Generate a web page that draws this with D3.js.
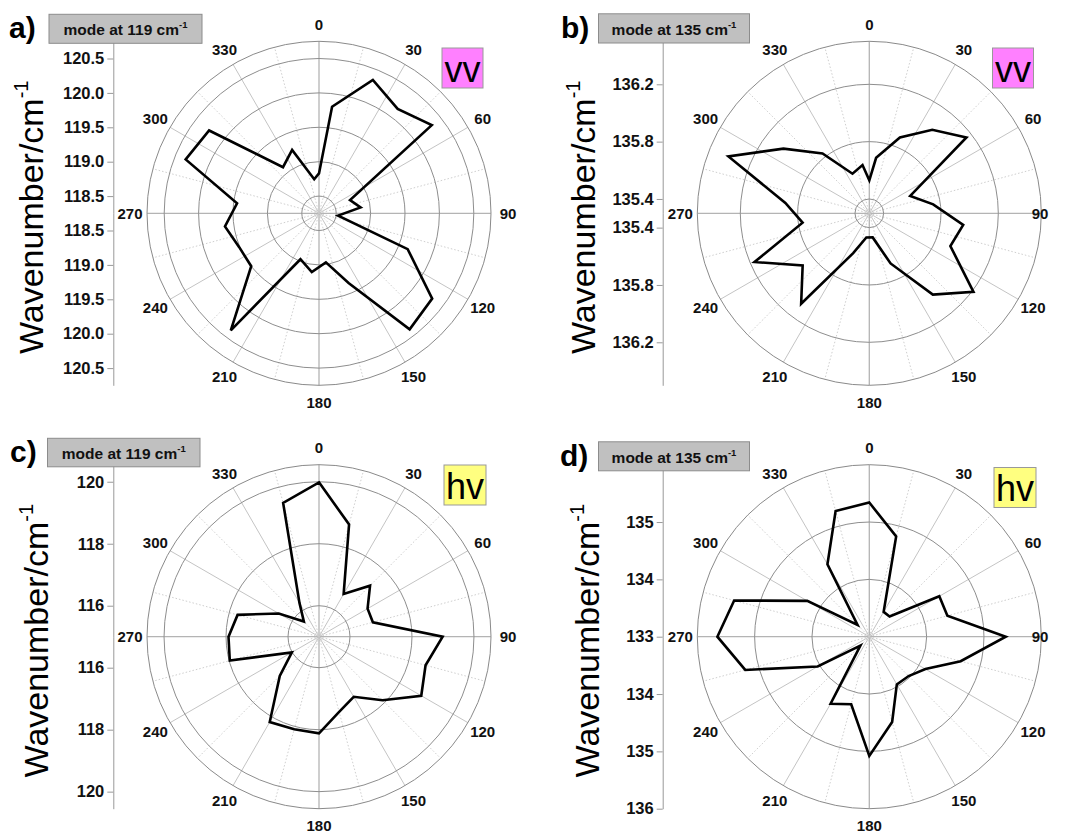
<!DOCTYPE html>
<html>
<head>
<meta charset="utf-8">
<script src="https://cdn.jsdelivr.net/npm/d3@7"></script>
<style>
  body { margin: 0; background: #fff; }
  svg { display: block; }
</style>
</head>
<body>
<svg id="chart" width="1065" height="833"></svg>
<script>
// ---- data: polarisation angle (deg) and mode wavenumber (cm^-1) ----
const anglesVV = [0, 7, 22, 37, 52, 67, 82, 97, 112, 127, 142, 157, 172, 187, 202, 217, 232, 247, 262, 277, 292, 307, 322, 337, 352];
const anglesHV = [0, 15, 30, 45, 60, 75, 90, 105, 120, 135, 150, 165, 180, 195, 210, 225, 240, 255, 270, 285, 300, 315, 330, 345];

const vv119 = [118.83, 119.81, 120.34, 120.15, 120.33, 118.74, 118.86, 118.53, 119.64, 120.31, 120.39, 119.35, 118.97,
               119.11, 118.97, 120.38, 119.50, 119.51, 119.63, 119.45, 120.34, 120.25, 119.10, 119.25, 118.75];
const vv135 = [135.53, 135.69, 135.87, 136.03, 136.16, 135.61, 135.75, 135.96, 135.91, 136.21, 136.02, 135.68, 135.47,
               135.47, 135.60, 136.09, 135.89, 136.17, 135.77, 135.89, 136.36, 136.05, 135.83, 135.60, 135.64];
const hv119 = [119.98, 118.75, 116.59, 117.33, 116.81, 116.80, 118.99, 118.56, 118.81, 117.90, 117.24, 117.51,
               118.12, 118.09, 118.18, 116.79, 116.01, 117.98, 117.92, 117.72, 116.50, 115.69, 116.26, 119.47];
const hv135 = [135.34, 134.81, 133.50, 133.50, 134.41, 134.41, 135.38, 134.65, 134.13, 133.97, 133.96, 134.54,
               135.08, 134.22, 134.35, 133.22, 134.04, 135.24, 135.65, 135.44, 134.25, 133.29, 134.46, 135.27];

// radial axis ranges, grid rings and tick values
const domainA = [118.25, 120.75], ringsA = [118.5, 119.0, 119.5, 120.0, 120.5];
const domainB = [135.3, 136.5],   ringsB = [135.4, 135.8, 136.2];
const domainC = [115, 120.55],    ringsC = [116, 118, 120];
const domainD = [133, 136],       ringsD = [134, 135];
const ticksA = [118.5, 119.0, 119.5, 120.0, 120.5];
const ticksB = [135.4, 135.8, 136.2];
const ticksC = [116, 118, 120];
const ticksDUp = [133, 134, 135], ticksDDown = [134, 135, 136];

const angleLabels = [0, 30, 60, 90, 120, 150, 180, 210, 240, 270, 300, 330];
const spokeAngles = [0, 15, 30, 45, 60, 75, 90, 105, 120, 135, 150, 165, 180, 195, 210, 225, 240, 255, 270, 285, 300, 315, 330, 345];

const panels = [
  { letter: "a)", mode: "119", pol: "vv", polFill: "#ff80ff", angles: anglesVV, values: vv119,
    domain: domainA, rings: ringsA, up: ticksA, down: ticksA, fmt: d3.format(".1f"),
    cx: 319, cy: 213.3, axisX: 113.3, titleX: 43, box: [49, 14.3, 153, 29], tag: [442, 48, 41, 40], letterX: 9 },
  { letter: "b)", mode: "135", pol: "vv", polFill: "#ff80ff", angles: anglesVV, values: vv135,
    domain: domainB, rings: ringsB, up: ticksB, down: ticksB, fmt: d3.format(".1f"),
    cx: 869.3, cy: 213.3, axisX: 662.7, titleX: 595, box: [598.5, 13.8, 151, 29.2], tag: [992.5, 48, 41, 40], letterX: 561 },
  { letter: "c)", mode: "119", pol: "hv", polFill: "#ffff80", angles: anglesHV, values: hv119,
    domain: domainC, rings: ringsC, up: ticksC, down: ticksC, fmt: d3.format("d"),
    cx: 319, cy: 636.7, axisX: 113.3, titleX: 48, box: [47.5, 438.3, 152.5, 28.5], tag: [444, 465, 42, 40], letterX: 10 },
  { letter: "d)", mode: "135", pol: "hv", polFill: "#ffff80", angles: anglesHV, values: hv135,
    domain: domainD, rings: ringsD, up: ticksDUp, down: ticksDDown, fmt: d3.format("d"),
    cx: 869.3, cy: 636.7, axisX: 662.7, titleX: 599, box: [598.5, 441.8, 151, 29], tag: [994, 467.5, 42, 40], letterX: 560 }
];

const R = 172;
const LABEL_R = 189;
const RIGHT_LIMIT = 1050;   // keep angle labels inside the page
const FONT = "'Liberation Sans', Arial, Helvetica, sans-serif";
const svg = d3.select("#chart").style("font-family", FONT);
const rad = d => d * Math.PI / 180;

panels.forEach(p => {
  const r = d3.scaleLinear().domain(p.domain).range([0, R]);
  const g = svg.append("g");
  const plot = g.append("g").attr("transform", `translate(${p.cx},${p.cy})`);

  // angular grid: solid major spokes every 30 deg, dotted minor ones between
  plot.selectAll("line.spoke").data(spokeAngles).join("line")
    .attr("x1", 0).attr("y1", 0)
    .attr("x2", a => R * Math.sin(rad(a)))
    .attr("y2", a => -R * Math.cos(rad(a)))
    .attr("stroke", a => a % 90 === 0 ? "#b4b4b4" : (a % 30 === 0 ? "#c4c4c4" : "#cfcfcf"))
    .attr("stroke-width", a => a % 90 === 0 ? 1.3 : 1)
    .attr("stroke-dasharray", a => a % 30 === 0 ? null : "1.5,2");

  // radial grid rings and outer boundary
  plot.selectAll("circle.ring").data(p.rings).join("circle")
    .attr("r", v => r(v)).attr("fill", "none")
    .attr("stroke", "#8e8e8e").attr("stroke-width", 1);
  plot.append("circle").attr("r", R).attr("fill", "none")
    .attr("stroke", "#8a8a8a").attr("stroke-width", 1);

  // measured curve
  const pts = p.angles.map((a, i) => ({ a, v: p.values[i] }));
  const line = d3.lineRadial()
    .angle(d => rad(d.a))
    .radius(d => r(d.v))
    .curve(d3.curveLinearClosed);
  plot.append("path").datum(pts).attr("d", line)
    .attr("fill", "none").attr("stroke", "#000")
    .attr("stroke-width", 2.6).attr("stroke-linejoin", "miter");

  // angle labels
  plot.selectAll("text.ang").data(angleLabels).join("text")
    .attr("x", a => Math.min(LABEL_R * Math.sin(rad(a)), RIGHT_LIMIT - 10 - p.cx))
    .attr("y", a => -LABEL_R * Math.cos(rad(a)))
    .attr("text-anchor", "middle").attr("dominant-baseline", "central")
    .attr("font-size", 15).attr("font-weight", "bold").attr("fill", "#111")
    .text(a => a);

  // left radial axis, mirrored above and below the centre
  const yUp = d3.scaleLinear().domain(p.domain).range([0, -R]);
  const yDown = d3.scaleLinear().domain(p.domain).range([0, R]);
  const axG = g.append("g").attr("transform", `translate(${p.axisX},${p.cy})`);
  [[yUp, p.up], [yDown, p.down]].forEach(([sc, tv]) => {
    const ax = axG.append("g").call(d3.axisLeft(sc).tickValues(tv).tickFormat(p.fmt)
      .tickSize(6).tickSizeOuter(0).tickPadding(3));
    ax.select(".domain").attr("stroke", "#999");
    ax.selectAll(".tick line").attr("stroke", "#999");
    ax.selectAll(".tick text").attr("font-size", 16.5).attr("font-weight", "bold")
      .attr("fill", "#111").attr("font-family", FONT);
  });

  // axis title
  const title = g.append("text")
    .attr("transform", `translate(${p.titleX},${p.cy + 4}) rotate(-90)`)
    .attr("text-anchor", "middle").attr("font-size", 34).attr("fill", "#000");
  title.append("tspan").text("Wavenumber/cm");
  title.append("tspan").attr("font-size", 20).attr("dy", -15).text("-1");

  // mode label box
  const [bx, by, bw, bh] = p.box;
  g.append("rect").attr("x", bx).attr("y", by).attr("width", bw).attr("height", bh)
    .attr("fill", "#c0c0c0").attr("stroke", "#8c8c8c").attr("stroke-width", 1);
  const mt = g.append("text").attr("x", bx + bw / 2).attr("y", by + 21)
    .attr("text-anchor", "middle").attr("font-size", 15.5).attr("font-weight", "bold").attr("fill", "#111");
  mt.append("tspan").text(`mode at ${p.mode} cm`);
  mt.append("tspan").attr("font-size", 9.5).attr("dy", -7).text("-1");

  // panel letter
  g.append("text").attr("x", p.letterX).attr("y", p.box[1] + 24)
    .attr("font-size", 30).attr("font-weight", "bold").attr("fill", "#000").text(p.letter);

  // polarisation tag
  const [tx, ty, tw, th] = p.tag;
  g.append("rect").attr("x", tx).attr("y", ty).attr("width", tw).attr("height", th)
    .attr("fill", p.polFill).attr("stroke", "#999").attr("stroke-width", 1);
  g.append("text").attr("x", tx + tw / 2).attr("y", ty + th / 2 + 1)
    .attr("text-anchor", "middle").attr("dominant-baseline", "central")
    .attr("font-size", 36).attr("fill", "#000").text(p.pol);
});
</script>
</body>
</html>
